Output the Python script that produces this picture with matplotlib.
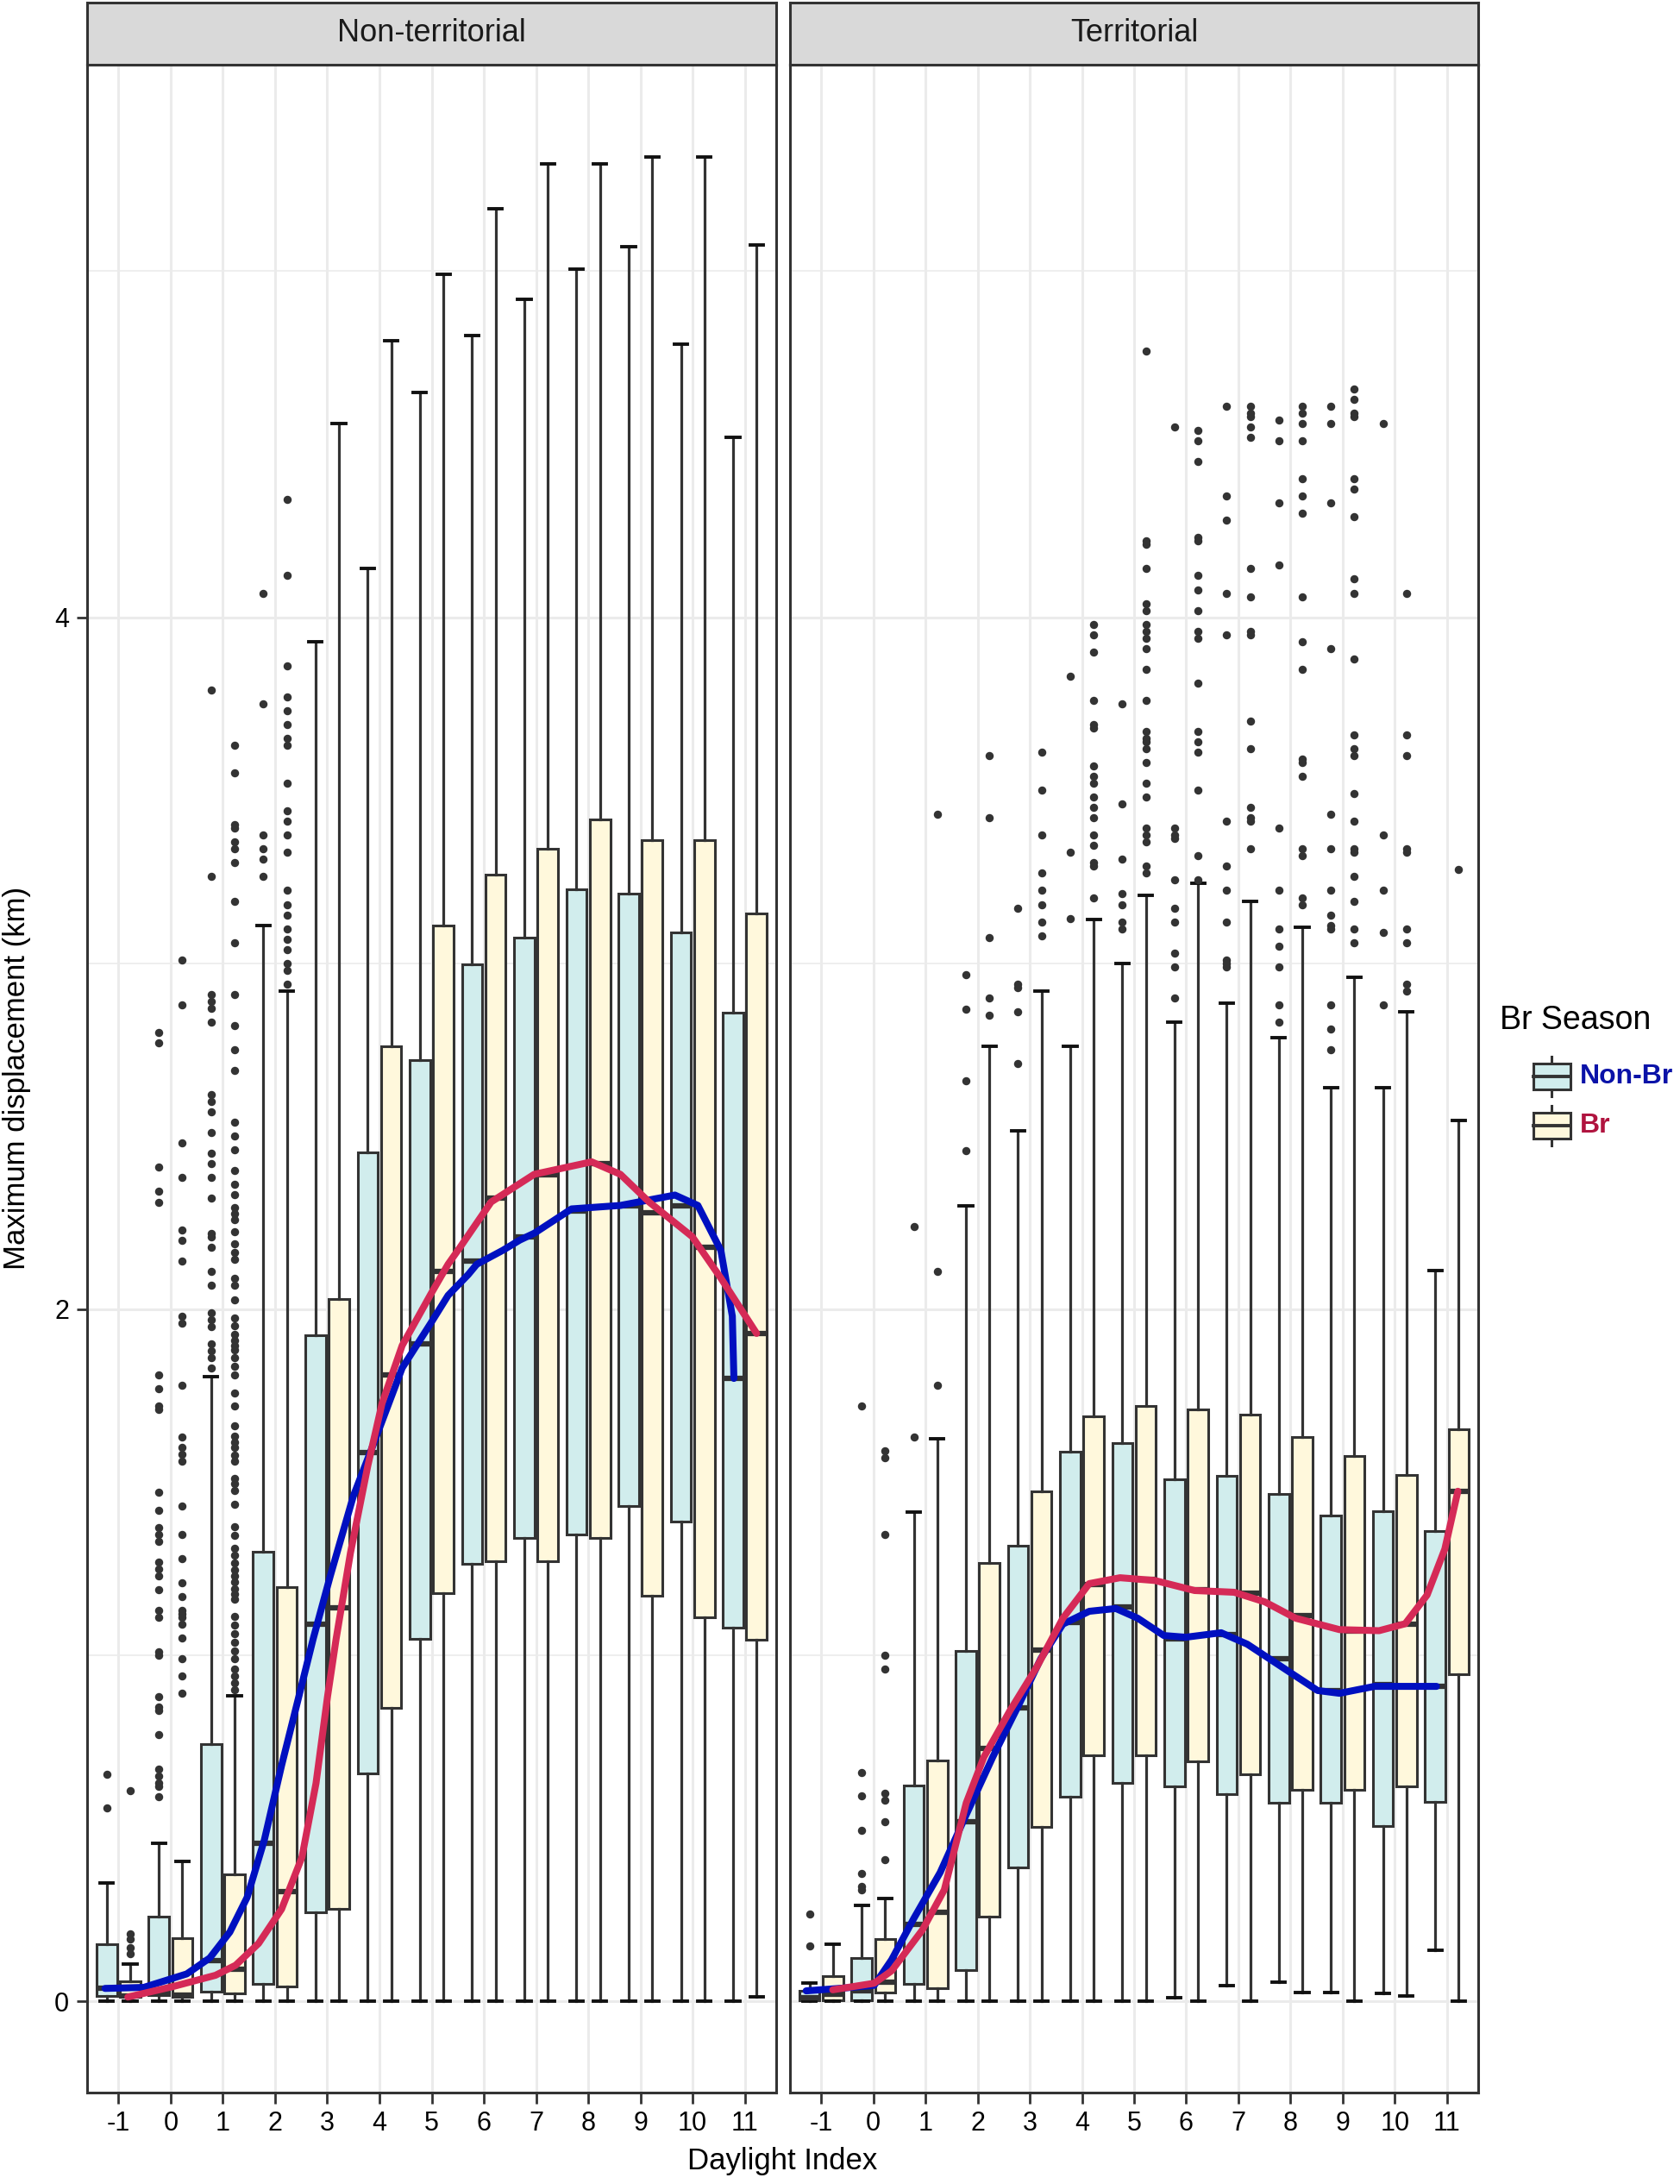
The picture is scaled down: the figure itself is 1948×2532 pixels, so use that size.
import matplotlib
matplotlib.use("Agg")
import matplotlib.pyplot as plt
from matplotlib.patches import Rectangle

plt.rcParams['font.family'] = ['Liberation Sans', 'DejaVu Sans']
plt.rcParams['axes.unicode_minus'] = False

# Daylight index categories
days = list(range(-1, 12))
day_labels = [str(d) for d in days]

# ---------- Non-territorial panel ----------
# Non-Br season
nt_nb_lo = [0, 0, 0, 0, 0, 0, 0, 0, 0, 0, 0, 0, 0]
nt_nb_q1 = [0.014, 0.017, 0.027, 0.05, 0.258, 0.658, 1.047, 1.263, 1.338, 1.35, 1.43, 1.386, 1.08]
nt_nb_med = [0.037, 0.025, 0.117, 0.457, 1.089, 1.587, 1.90, 2.139, 2.208, 2.284, 2.30, 2.30, 1.80]
nt_nb_q3 = [0.166, 0.245, 0.744, 1.30, 1.926, 2.453, 2.72, 2.996, 3.075, 3.214, 3.20, 3.09, 2.858]
nt_nb_hi = [0.342, 0.456, 1.806, 3.11, 3.93, 4.14, 4.65, 4.815, 4.918, 5.005, 5.07, 4.79, 4.52]
nt_nb_out = [
    [0.656, 0.558],
    [2.80, 2.77, 2.41, 2.34, 2.31, 1.81, 1.77, 1.72, 1.71, 1.47, 1.42, 1.37, 1.35, 1.33, 1.27,
     1.25, 1.23, 1.19, 1.13, 1.11, 1.01, 1.0, 0.88, 0.85, 0.84, 0.77, 0.67, 0.65, 0.63, 0.62, 0.59],
    [3.79, 3.25, 2.91, 2.89, 2.87, 2.83, 2.62, 2.60, 2.57, 2.51, 2.45, 2.42, 2.38, 2.32, 2.22,
     2.21, 2.18, 2.11, 2.07, 1.99, 1.97, 1.95, 1.90, 1.88, 1.86, 1.83],
    [4.07, 3.75, 3.37, 3.33, 3.30, 3.25],
    [], [], [], [], [], [], [], [], [],
]
# Br season
nt_br_lo = [0, 0, 0, 0, 0, 0, 0, 0, 0, 0, 0, 0, 0.012]
nt_br_q1 = [0.012, 0.012, 0.023, 0.042, 0.266, 0.848, 1.18, 1.272, 1.272, 1.338, 1.172, 1.11, 1.045]
nt_br_med = [0.015, 0.018, 0.092, 0.316, 1.137, 1.81, 2.11, 2.32, 2.389, 2.42, 2.28, 2.178, 1.93]
nt_br_q3 = [0.058, 0.181, 0.367, 1.197, 2.03, 2.76, 3.108, 3.256, 3.332, 3.416, 3.356, 3.356, 3.145]
nt_br_hi = [0.108, 0.403, 0.883, 2.92, 4.56, 4.80, 4.99, 5.18, 5.31, 5.31, 5.33, 5.33, 5.075]
nt_br_out = [
    [0.609, 0.195, 0.18, 0.154, 0.137],
    [3.01, 2.88, 2.48, 2.38, 2.23, 2.20, 2.14, 1.98, 1.96, 1.78, 1.63, 1.60, 1.58, 1.56, 1.43,
     1.35, 1.28, 1.21, 1.17, 1.13, 1.12, 1.11, 1.09, 1.05, 0.99, 0.94, 0.89],
    [3.63, 3.55, 3.40, 3.39, 3.35, 3.33, 3.29, 3.18, 3.06, 2.91, 2.82, 2.75, 2.69, 2.54, 2.50,
     2.46, 2.40, 2.36, 2.33, 2.294, 2.277, 2.26, 2.223, 2.19, 2.165, 2.144, 2.09, 2.07, 2.028,
     1.974, 1.953, 1.928, 1.911, 1.895, 1.882, 1.861, 1.836, 1.811, 1.757, 1.72, 1.662, 1.633,
     1.616, 1.6, 1.579, 1.562, 1.512, 1.496, 1.475, 1.437, 1.371, 1.346, 1.309, 1.288, 1.267,
     1.246, 1.23, 1.213, 1.192, 1.176, 1.163, 1.113, 1.088, 1.063, 1.038, 1.013, 0.99, 0.96,
     0.94, 0.92, 0.90],
    [4.34, 4.12, 3.86, 3.77, 3.73, 3.69, 3.65, 3.63, 3.52, 3.44, 3.41, 3.37, 3.32, 3.21, 3.17,
     3.14, 3.10, 3.07, 3.04, 3.00, 2.98, 2.94],
    [], [], [], [], [], [], [], [], [],
]
# smoothed trends
nt_nb_fit_x = [-1.257, -0.515, 0.31, 0.75, 1.135, 1.465, 1.795, 2.125, 2.455, 2.73, 3.06, 3.50,
               3.885, 4.435, 4.985, 5.315, 5.70, 5.865, 6.36, 6.69, 6.97, 7.68, 8.615, 9.66,
               10.10, 10.54, 10.76, 10.79]
nt_nb_fit_y = [0.037, 0.04, 0.079, 0.125, 0.2, 0.3, 0.466, 0.681, 0.88, 1.047, 1.23, 1.46, 1.61,
               1.83, 1.96, 2.04, 2.10, 2.13, 2.17, 2.20, 2.22, 2.29, 2.30, 2.33, 2.30, 2.17, 1.98,
               1.80]
nt_br_fit_x = [-0.82, 0.035, 0.86, 1.245, 1.685, 2.125, 2.515, 2.785, 3.005, 3.17, 3.445, 3.775,
               4.05, 4.435, 4.985, 5.315, 5.535, 6.14, 6.965, 8.065, 8.615, 9.165, 9.99, 10.54,
               11.225]
nt_br_fit_y = [0.012, 0.042, 0.075, 0.104, 0.167, 0.266, 0.416, 0.63, 0.88, 1.047, 1.296, 1.546,
               1.728, 1.895, 2.044, 2.13, 2.177, 2.31, 2.39, 2.426, 2.39, 2.31, 2.21, 2.09, 1.93]

# ---------- Territorial panel ----------
t_nb_lo = [0, 0, 0, 0, 0, 0, 0, 0.01, 0.046, 0.056, 0.025, 0.023, 0.147]
t_nb_q1 = [0.002, 0.003, 0.05, 0.089, 0.386, 0.59, 0.631, 0.62, 0.598, 0.573, 0.573, 0.506, 0.576]
t_nb_med = [0.01, 0.03, 0.222, 0.518, 0.848, 1.094, 1.14, 1.047, 1.06, 0.99, 0.898, 0.915, 0.91]
t_nb_q3 = [0.030, 0.125, 0.623, 1.012, 1.316, 1.588, 1.613, 1.508, 1.518, 1.466, 1.404, 1.416, 1.358]
t_nb_hi = [0.052, 0.276, 1.413, 2.30, 2.515, 2.76, 3.0, 2.83, 2.885, 2.784, 2.64, 2.64, 2.112]
t_nb_out = [
    [0.251, 0.159],
    [1.72, 0.661, 0.593, 0.493, 0.369, 0.331, 0.323],
    [2.24, 1.63],
    [2.967, 2.867, 2.66, 2.458],
    [3.16, 2.94, 2.93, 2.86, 2.71],
    [3.83, 3.32, 3.13],
    [3.75, 3.46, 3.30, 3.20, 3.17, 3.12, 3.10],
    [4.55, 3.39, 3.37, 3.36, 3.24, 3.16, 3.12, 3.03, 2.99, 2.90],
    [4.61, 4.35, 4.28, 4.07, 3.95, 3.41, 3.28, 3.21, 3.12, 3.01, 3.0, 2.99],
    [4.57, 4.51, 4.33, 4.15, 3.39, 3.21, 3.10, 3.05, 2.99, 2.88, 2.83],
    [4.61, 4.56, 4.33, 3.91, 3.43, 3.33, 3.21, 3.14, 3.11, 3.10, 2.88, 2.81, 2.75],
    [4.56, 3.37, 3.21, 3.09, 2.88],
    [],
]
t_br_lo = [0, 0, 0, 0, 0, 0, 0, 0, 0, 0.025, 0, 0.015, 0]
t_br_q1 = [0.002, 0.025, 0.038, 0.244, 0.503, 0.71, 0.71, 0.693, 0.656, 0.611, 0.611, 0.62, 0.945]
t_br_med = [0.02, 0.055, 0.256, 0.731, 1.014, 1.205, 1.22, 1.19, 1.18, 1.114, 1.07, 1.09, 1.474]
t_br_q3 = [0.072, 0.179, 0.695, 1.266, 1.474, 1.69, 1.72, 1.71, 1.695, 1.63, 1.575, 1.521, 1.653]
t_br_hi = [0.164, 0.297, 1.625, 2.76, 2.92, 3.126, 3.197, 3.23, 3.18, 3.105, 2.96, 2.86, 2.545]
t_br_out = [
    [],
    [1.59, 1.57, 1.35, 1.0, 0.96, 0.60, 0.58, 0.52, 0.41],
    [3.43, 2.109, 1.78],
    [3.60, 3.42, 3.075, 2.90, 2.85],
    [3.61, 3.50, 3.37, 3.26, 3.21, 3.17, 3.12, 3.08],
    [3.98, 3.95, 3.90, 3.76, 3.69, 3.68, 3.57, 3.54, 3.52, 3.48, 3.45, 3.42, 3.37, 3.34, 3.29,
     3.28, 3.19],
    [4.77, 4.22, 4.21, 4.14, 4.04, 4.02, 3.98, 3.96, 3.94, 3.91, 3.85, 3.76, 3.67, 3.65, 3.64,
     3.62, 3.58, 3.52, 3.48, 3.39, 3.37, 3.35, 3.28, 3.26],
    [4.54, 4.51, 4.45, 4.23, 4.22, 4.12, 4.08, 4.02, 3.96, 3.94, 3.81, 3.67, 3.64, 3.61, 3.50,
     3.31, 3.24],
    [4.61, 4.59, 4.58, 4.55, 4.52, 4.14, 4.06, 3.96, 3.95, 3.70, 3.62, 3.45, 3.42, 3.41, 3.33],
    [4.61, 4.59, 4.56, 4.51, 4.40, 4.35, 4.30, 4.06, 3.93, 3.85, 3.59, 3.58, 3.54, 3.33, 3.31,
     3.19, 3.17],
    [4.66, 4.63, 4.59, 4.58, 4.40, 4.37, 4.29, 4.11, 4.07, 3.88, 3.66, 3.62, 3.60, 3.49, 3.41,
     3.33, 3.32, 3.25, 3.18, 3.10, 3.06],
    [4.07, 3.66, 3.60, 3.33, 3.32, 3.10, 3.06, 2.94, 2.92],
    [3.27],
]
t_nb_fit_x = [-1.29, -0.574, 0.015, 0.35, 0.774, 1.28, 1.78, 2.29, 2.79, 3.21, 3.635, 4.14, 4.65,
              5.07, 5.57, 5.99, 6.67, 7.17, 7.845, 8.52, 8.94, 9.61, 10.20, 10.80]
t_nb_fit_y = [0.03, 0.038, 0.046, 0.12, 0.239, 0.372, 0.539, 0.706, 0.857, 0.99, 1.09, 1.127,
              1.135, 1.107, 1.057, 1.052, 1.065, 1.032, 0.965, 0.898, 0.89, 0.91, 0.91, 0.91]
t_br_fit_x = [-0.78, 0.015, 0.35, 0.94, 1.36, 1.78, 2.12, 2.62, 3.13, 3.635, 4.14, 4.73, 5.40,
              6.16, 6.92, 7.51, 8.10, 8.94, 9.70, 10.20, 10.62, 10.96, 11.21]
t_br_fit_y = [0.033, 0.052, 0.088, 0.206, 0.322, 0.573, 0.706, 0.84, 0.965, 1.107, 1.207, 1.224,
              1.216, 1.187, 1.182, 1.154, 1.107, 1.074, 1.071, 1.091, 1.174, 1.307, 1.474]

# ---------- style ----------
NB_FILL = '#D1EDED'
BR_FILL = '#FFF8DC'
NB_LINE = '#0010C0'
BR_LINE = '#D52A57'
DARK = '#333333'
GRID = '#EBEBEB'
OFFSET = 0.225

fig = plt.figure(figsize=(19.48, 25.32), dpi=100)
W, H = 1948.0, 2532.0


def px_axes(x0, y0, x1, y1):
    return fig.add_axes([x0 / W, 1 - y1 / H, (x1 - x0) / W, (y1 - y0) / H])


def draw_group(ax, lo, q1, med, q3, hi, out, offset, fill):
    stats = []
    for i in range(len(days)):
        stats.append(dict(whislo=lo[i], q1=q1[i], med=med[i], q3=q3[i], whishi=hi[i],
                          fliers=out[i]))
    ax.bxp(stats, positions=[d + offset for d in days], widths=0.39, capwidths=0.25,
           patch_artist=True, manage_ticks=False,
           boxprops=dict(facecolor=fill, edgecolor=DARK, linewidth=2.2),
           whiskerprops=dict(color=DARK, linewidth=2.3),
           capprops=dict(color='#111111', linewidth=2.8),
           medianprops=dict(color=DARK, linewidth=4.5),
           flierprops=dict(marker='o', markerfacecolor=DARK, markeredgecolor=DARK,
                           markersize=5.8, linestyle='none'))


def draw_panel(ax, nb, br, nb_fit, br_fit, title, show_y):
    draw_group(ax, *nb, -OFFSET, NB_FILL)
    draw_group(ax, *br, OFFSET, BR_FILL)
    ax.plot(nb_fit[0], nb_fit[1], color=NB_LINE, lw=5.8, solid_capstyle='round',
            solid_joinstyle='round', zorder=5)
    ax.plot(br_fit[0], br_fit[1], color=BR_LINE, lw=5.8, solid_capstyle='round',
            solid_joinstyle='round', zorder=5)
    ax.set_xlim(-1.6, 11.6)
    ax.set_ylim(-0.264, 5.597)
    ax.set_xticks(days)
    ax.set_xticklabels(day_labels)
    ax.set_yticks([0, 2, 4])
    ax.set_yticklabels(['0', '2', '4'])
    ax.set_yticks([1, 3, 5], minor=True)
    ax.set_axisbelow(True)
    ax.grid(which='major', color=GRID, linewidth=2.2)
    ax.grid(which='minor', axis='y', color=GRID, linewidth=1.2)
    for s in ax.spines.values():
        s.set_color(DARK)
        s.set_linewidth(2.2)
    ax.tick_params(axis='both', which='major', length=9, width=2.0, color=DARK,
                   labelsize=22, labelcolor='black', pad=6)
    ax.tick_params(axis='both', which='minor', length=0)
    if not show_y:
        ax.tick_params(axis='y', which='both', left=False, labelleft=False)
    # facet strip
    pos = ax.get_position()
    sax = fig.add_axes([pos.x0, pos.y1, pos.width, 72 / H])
    sax.set_facecolor('#D9D9D9')
    sax.set_xticks([])
    sax.set_yticks([])
    for s in sax.spines.values():
        s.set_color(DARK)
        s.set_linewidth(2.2)
    sax.text(0.5, 0.5, title, ha='center', va='center', fontsize=26, color='#1a1a1a',
             transform=sax.transAxes)


ax1 = px_axes(101, 75, 900, 2426)
ax2 = px_axes(916, 75, 1714, 2426)

draw_panel(ax1,
           (nt_nb_lo, nt_nb_q1, nt_nb_med, nt_nb_q3, nt_nb_hi, nt_nb_out),
           (nt_br_lo, nt_br_q1, nt_br_med, nt_br_q3, nt_br_hi, nt_br_out),
           (nt_nb_fit_x, nt_nb_fit_y), (nt_br_fit_x, nt_br_fit_y),
           'Non-territorial', True)
draw_panel(ax2,
           (t_nb_lo, t_nb_q1, t_nb_med, t_nb_q3, t_nb_hi, t_nb_out),
           (t_br_lo, t_br_q1, t_br_med, t_br_q3, t_br_hi, t_br_out),
           (t_nb_fit_x, t_nb_fit_y), (t_br_fit_x, t_br_fit_y),
           'Territorial', False)

# axis titles
fig.text(907 / W, 1 - 2506 / H, 'Daylight Index', ha='center', va='center', fontsize=25)
fig.text(20 / W, 1 - 1250 / H, 'Maximum displacement (km)', ha='center', va='center',
         rotation=90, fontsize=25)

# legend drawn in pixel coordinates
lax = px_axes(1700, 1130, 1948, 1350)
lax.set_xlim(1700, 1948)
lax.set_ylim(1350, 1130)
lax.axis('off')
lax.text(1739, 1183, 'Br Season', ha='left', va='center', fontsize=27)
legend_items = [('Non-Br', NB_FILL, '#0A12A8', 1248), ('Br', BR_FILL, '#B0143F', 1305)]
for name, fill, tcol, yc in legend_items:
    lax.plot([1799, 1799], [yc - 23, yc + 23], color=DARK, lw=2.2, zorder=1)
    lax.add_patch(Rectangle((1778, yc - 15), 43, 30, facecolor=fill, edgecolor=DARK,
                            linewidth=2.2, zorder=2))
    lax.plot([1778, 1821], [yc, yc], color=DARK, lw=2.8, zorder=3)
    lax.text(1832, yc, name, ha='left', va='center', fontsize=23, fontweight='bold',
             color=tcol)

fig.savefig('out.png', dpi=100)
